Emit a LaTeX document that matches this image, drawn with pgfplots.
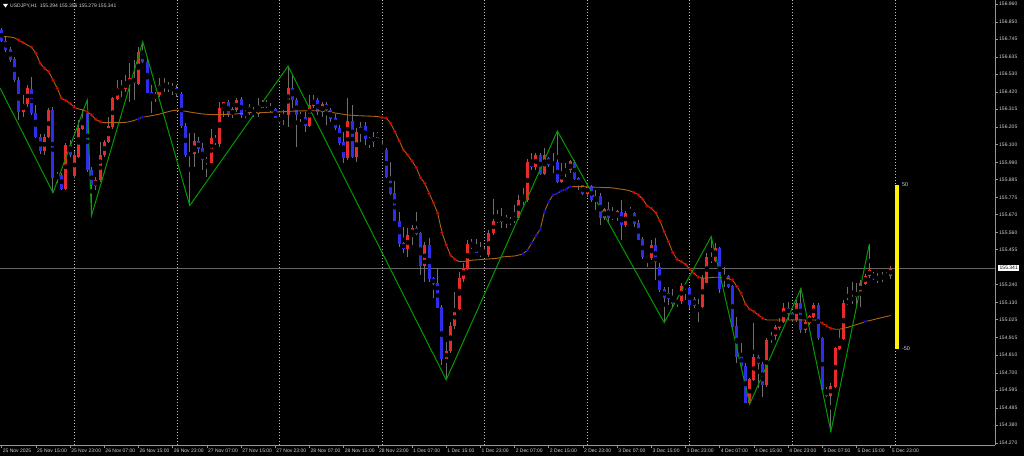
\documentclass[border=0pt]{standalone}
\usepackage{fontspec}
\setmainfont{Liberation Sans}
\usepackage{pgfplots}
\usepackage{pgfplotstable}
\pgfplotsset{compat=1.18}

\definecolor{upred}{RGB}{232,42,42}
\definecolor{dnblue}{RGB}{45,45,235}
\definecolor{wickgray}{RGB}{110,110,110}
\definecolor{mabrown}{RGB}{170,100,20}
\definecolor{zzgreen}{RGB}{0,155,0}
\definecolor{txtgray}{RGB}{212,212,212}
\definecolor{axgray}{RGB}{150,150,150}

% i open high low close ma dotflag(1 red, -1 blue)
\pgfplotstableread{
i o h l c ma s
0 156.801 156.811 156.729 156.735 156.760 0
1 156.735 156.760 156.668 156.678 156.760 0
2 156.682 156.699 156.607 156.621 156.758 0
3 156.621 156.637 156.484 156.494 156.752 0
4 156.494 156.515 156.249 156.300 156.739 1
5 156.300 156.403 156.270 156.347 156.723 1
6 156.351 156.464 156.331 156.443 156.709 0
7 156.439 156.515 156.280 156.294 156.695 1
8 156.294 156.341 156.137 156.147 156.658 1
9 156.143 156.168 156.045 156.060 156.597 1
10 156.060 156.168 156.035 156.143 156.566 1
11 156.147 156.321 156.137 156.307 156.545 1
12 156.307 156.331 155.804 155.898 156.494 1
13 155.902 155.933 155.862 155.912 156.443 1
14 155.912 155.923 155.821 155.831 156.382 1
15 155.831 156.106 155.821 156.096 156.368 1
16 156.096 156.127 156.025 156.035 156.351 1
17 155.912 156.060 155.892 156.035 156.327 1
18 156.025 156.249 156.015 156.198 156.317 0
19 156.198 156.311 156.188 156.260 156.311 0
20 156.290 156.372 155.933 155.943 156.300 1
21 155.943 155.964 155.662 155.851 156.280 1
22 155.847 155.902 155.821 155.882 156.253 1
23 155.882 156.116 155.872 156.035 156.239 1
24 156.035 156.127 156.025 156.111 156.233 0
25 156.117 156.270 156.107 156.209 156.233 0
26 156.209 156.392 156.198 156.382 156.233 0
27 156.382 156.494 156.372 156.443 156.233 0
28 156.443 156.494 156.392 156.454 156.233 0
29 156.443 156.525 156.423 156.478 156.235 0
30 156.474 156.597 156.362 156.505 156.239 0
31 156.505 156.617 156.372 156.480 156.247 0
32 156.474 156.699 156.464 156.668 156.256 -1
33 156.668 156.729 156.597 156.607 156.268 -1
34 156.607 156.637 156.413 156.417 156.270 0
35 156.417 156.464 156.290 156.382 156.276 0
36 156.382 156.423 156.362 156.409 156.280 0
37 156.403 156.505 156.392 156.464 156.286 0
38 156.458 156.505 156.423 156.454 156.294 0
39 156.454 156.484 156.423 156.448 156.300 0
40 156.450 156.474 156.403 156.443 156.307 0
41 156.443 156.464 156.392 156.409 156.309 0
42 156.409 156.423 156.198 156.213 156.307 0
43 156.213 156.229 156.025 156.035 156.303 0
44 156.035 156.168 155.725 156.045 156.298 0
45 156.045 156.168 155.964 156.117 156.294 0
46 156.117 156.147 156.045 156.076 156.290 0
47 156.076 156.107 155.943 156.009 156.286 0
48 156.009 156.025 155.904 155.988 156.284 0
49 155.988 156.198 155.984 156.137 156.282 0
50 156.137 156.158 156.096 156.107 156.282 0
51 156.107 156.362 156.086 156.321 156.282 0
52 156.321 156.362 156.270 156.356 156.283 0
53 156.356 156.372 156.270 156.280 156.284 0
54 156.280 156.331 156.260 156.315 156.285 0
55 156.311 156.382 156.300 156.372 156.287 0
56 156.376 156.392 156.260 156.280 156.289 0
57 156.300 156.311 156.260 156.286 156.291 0
58 156.327 156.351 156.280 156.296 156.294 0
59 156.304 156.331 156.270 156.284 156.294 0
60 156.290 156.382 156.270 156.327 156.294 0
61 156.327 156.372 156.321 156.356 156.295 0
62 156.358 156.372 156.321 156.331 156.296 0
63 156.331 156.351 156.290 156.315 156.297 0
64 156.315 156.321 156.260 156.264 156.298 0
65 156.239 156.280 156.229 156.264 156.299 0
66 156.264 156.311 156.219 156.284 156.300 0
67 156.284 156.580 156.209 156.443 156.302 0
68 156.443 156.525 156.321 156.372 156.303 0
69 156.372 156.382 156.086 156.280 156.304 0
70 156.280 156.300 156.239 156.264 156.305 0
71 156.264 156.300 156.178 156.215 156.305 0
72 156.215 156.402 156.209 156.341 156.306 0
73 156.341 156.402 156.321 156.372 156.306 0
74 156.372 156.382 156.280 156.300 156.306 0
75 156.300 156.362 156.270 156.345 156.305 0
76 156.345 156.362 156.219 156.311 156.303 0
77 156.311 156.321 156.239 156.260 156.298 0
78 156.260 156.290 156.188 156.202 156.292 0
79 156.202 156.219 156.096 156.113 156.288 0
80 156.113 156.178 155.984 156.019 156.284 0
81 156.019 156.386 156.004 156.243 156.280 0
82 156.243 156.341 156.015 156.025 156.278 0
83 156.025 156.198 155.994 156.174 156.276 0
84 156.174 156.239 156.117 156.209 156.275 0
85 156.209 156.239 156.096 156.137 156.274 0
86 156.137 156.147 156.076 156.117 156.273 0
87 156.117 156.178 156.086 156.143 156.272 0
88 156.143 156.178 156.137 156.168 156.270 0
89 156.051 156.127 156.045 156.066 156.264 1
90 156.066 156.076 155.892 155.902 156.260 1
91 155.902 155.990 155.790 155.800 156.229 1
92 155.800 155.872 155.627 155.631 156.178 1
93 155.631 155.688 155.473 155.494 156.121 1
94 155.494 155.596 155.433 155.459 156.066 1
95 155.459 155.586 155.412 155.545 156.035 1
96 155.545 155.606 155.484 155.586 155.998 1
97 155.586 155.688 155.545 155.555 155.957 1
98 155.555 155.565 155.300 155.355 155.896 1
99 155.355 155.504 155.259 155.480 155.861 1
100 155.480 155.524 155.259 155.279 155.800 1
101 155.279 155.290 155.157 155.249 155.743 1
102 155.249 155.341 155.096 155.100 155.678 1
103 155.100 155.116 154.749 154.785 155.561 1
104 154.785 154.891 154.657 154.834 155.484 1
105 154.834 155.014 154.820 154.989 155.422 1
106 154.989 155.198 154.973 155.092 155.396 1
107 155.092 155.320 155.085 155.279 155.382 0
108 155.279 155.371 155.259 155.341 155.382 0
109 155.341 155.514 155.330 155.488 155.386 0
110 155.488 155.520 155.463 155.473 155.390 0
111 155.473 155.520 155.433 155.439 155.392 0
112 155.439 155.504 155.412 155.426 155.394 0
113 155.426 155.473 155.412 155.422 155.396 0
114 155.422 155.575 155.412 155.557 155.398 0
115 155.557 155.769 155.545 155.631 155.400 0
116 155.631 155.700 155.620 155.645 155.402 0
117 155.627 155.708 155.586 155.653 155.410 0
118 155.653 155.668 155.586 155.627 155.412 0
119 155.627 155.657 155.606 155.633 155.414 0
120 155.633 155.729 155.616 155.653 155.416 0
121 155.653 155.790 155.637 155.759 155.422 0
122 155.759 155.831 155.729 155.764 155.429 -1
123 155.764 156.015 155.749 155.994 155.453 -1
124 155.994 156.045 155.943 155.964 155.494 -1
125 155.964 156.045 155.943 156.035 155.541 -1
126 156.035 156.045 155.913 155.923 155.580 -1
127 155.923 156.076 155.913 156.035 155.688 -1
128 156.015 156.025 155.964 155.974 155.749 -1
129 155.974 156.045 155.923 155.990 155.790 -1
130 155.990 156.182 155.862 155.872 155.800 -1
131 155.872 155.984 155.862 155.923 155.815 -1
132 155.923 155.984 155.902 155.943 155.825 -1
133 155.943 156.004 155.923 155.994 155.841 -1
134 155.994 156.004 155.882 155.892 155.841 0
135 155.892 155.902 155.821 155.851 155.841 0
136 155.851 155.855 155.790 155.800 155.841 0
137 155.800 155.862 155.780 155.841 155.839 0
138 155.841 155.851 155.749 155.759 155.839 0
139 155.759 155.821 155.698 155.780 155.837 0
140 155.780 155.800 155.606 155.653 155.837 0
141 155.653 155.708 155.637 155.702 155.835 0
142 155.702 155.749 155.616 155.653 155.835 0
143 155.653 155.719 155.637 155.657 155.833 0
144 155.657 155.698 155.627 155.688 155.829 0
145 155.688 155.759 155.514 155.606 155.825 0
146 155.606 155.690 155.596 155.680 155.821 0
147 155.680 155.719 155.668 155.676 155.815 0
148 155.676 155.688 155.596 155.616 155.804 1
149 155.616 155.637 155.514 155.518 155.790 1
150 155.518 155.535 155.402 155.412 155.764 1
151 155.412 155.422 155.351 155.408 155.723 1
152 155.408 155.514 155.392 155.484 155.708 1
153 155.484 155.524 155.269 155.382 155.682 1
154 155.347 155.371 155.198 155.212 155.631 1
155 155.212 155.228 155.008 155.163 155.565 1
156 155.188 155.228 155.116 155.157 155.504 1
157 155.167 155.218 155.106 155.122 155.437 1
158 155.122 155.167 155.106 155.143 155.396 1
159 155.143 155.249 155.126 155.233 155.382 1
160 155.233 155.249 155.147 155.224 155.365 1
161 155.218 155.228 155.096 155.116 155.335 1
162 155.151 155.167 155.096 155.110 155.310 1
163 155.110 155.157 155.014 155.106 155.286 1
164 155.106 155.300 155.100 155.280 155.280 0
165 155.253 155.433 155.249 155.412 155.280 0
166 155.408 155.535 155.371 155.388 155.284 0
167 155.388 155.494 155.382 155.463 155.286 0
168 155.463 155.473 155.188 155.218 155.286 0
169 155.290 155.351 155.228 155.269 155.282 0
170 155.290 155.300 155.218 155.228 155.278 0
171 155.228 155.239 154.973 154.984 155.269 1
172 154.984 155.045 154.759 154.800 155.229 1
173 154.810 154.882 154.739 154.743 155.188 1
174 154.743 154.759 154.514 154.518 155.122 1
175 154.518 154.667 154.508 154.661 155.090 1
176 154.661 155.004 154.653 154.796 155.075 1
177 154.796 154.810 154.606 154.755 155.055 1
178 154.755 154.769 154.555 154.626 155.035 1
179 154.626 154.912 154.616 154.902 155.024 0
180 154.902 154.953 154.882 154.926 155.024 0
181 154.926 154.994 154.902 154.980 155.024 0
182 154.980 155.035 154.963 155.014 155.024 0
183 155.014 155.126 155.004 155.096 155.024 0
184 155.096 155.137 155.024 155.065 155.024 0
185 155.065 155.075 155.014 155.024 155.024 0
186 155.024 155.147 155.014 155.126 155.024 0
187 155.126 155.218 154.943 154.963 155.024 0
188 154.963 155.024 154.943 155.008 155.024 0
189 155.008 155.055 154.994 155.045 155.024 0
190 155.045 155.126 155.035 155.116 155.024 0
191 155.116 155.126 154.902 154.912 155.022 0
192 154.912 154.922 154.586 154.596 155.004 1
193 154.596 154.616 154.555 154.559 154.988 1
194 154.559 154.637 154.340 154.616 154.973 1
195 154.616 154.861 154.606 154.851 154.967 0
196 154.851 154.963 154.841 154.906 154.967 0
197 154.906 155.147 154.902 155.126 154.973 0
198 155.126 155.229 155.116 155.141 154.979 0
199 155.141 155.259 155.126 155.167 154.988 0
200 155.167 155.249 155.116 155.194 154.996 0
201 155.194 155.269 155.106 155.249 155.004 0
202 155.249 155.310 155.239 155.294 155.014 -1
203 155.294 155.490 155.280 155.331 155.020 0
204 155.300 155.320 155.270 155.280 155.026 0
205 155.280 155.314 155.249 155.276 155.033 0
206 155.276 155.321 155.259 155.290 155.039 0
207 155.290 155.321 155.280 155.300 155.045 0
208 155.294 155.356 155.279 155.341 155.051 0
}\candles

% zigzag pivots
\pgfplotstableread{
i p
-0.4 156.446
12 155.804
20 156.372
21 155.662
33 156.729
44 155.725
67 156.580
104 154.657
130 156.182
155 155.008
166 155.535
175 154.508
187 155.218
194 154.340
203 155.490
}\zigzag

\begin{document}
\begin{tikzpicture}[x=1pt,y=1pt]
\path[use as bounding box, fill=black] (0,0) rectangle (1024,456);
\begin{axis}[
    at={(0pt,11pt)}, anchor=south west,
    width=995pt, height=445pt, scale only axis,
    xmin=-0.4, xmax=232.4,
    ymin=154.2578, ymax=156.9845,
    axis x line*=bottom, axis y line*=right,
    x axis line style={-, draw=axgray, line width=0.8pt},
    y axis line style={-, draw=axgray, line width=0.8pt},
    tick align=outside, major tick length=3pt,
    tick style={draw=axgray, line width=0.6pt},
    xtick={0,8,...,208},
    xticklabels={25 Nov 2025, 25 Nov 15:00, 25 Nov 23:00, 26 Nov 07:00, 26 Nov 15:00, 26 Nov 23:00,
        27 Nov 07:00, 27 Nov 15:00, 27 Nov 23:00, 28 Nov 07:00, 28 Nov 15:00, 28 Nov 23:00,
        1 Dec 07:00, 1 Dec 15:00, 1 Dec 23:00, 2 Dec 07:00, 2 Dec 15:00, 2 Dec 23:00,
        3 Dec 07:00, 3 Dec 15:00, 3 Dec 23:00, 4 Dec 07:00, 4 Dec 15:00, 4 Dec 23:00,
        5 Dec 07:00, 5 Dec 15:00, 5 Dec 23:00},
    xticklabel style={anchor=north west, inner sep=0pt, xshift=1pt, yshift=-0.5pt,
        font=\fontsize{5}{6}\selectfont, text=txtgray},
    ytick={156.960,156.850,156.745,156.635,156.530,156.420,156.315,156.205,156.100,155.990,
        155.885,155.775,155.670,155.560,155.455,155.240,155.130,155.025,154.915,154.810,
        154.700,154.595,154.485,154.380,154.270},
    yticklabels={156.960,156.850,156.745,156.635,156.530,156.420,156.315,156.205,156.100,155.990,
        155.885,155.775,155.670,155.560,155.455,155.240,155.130,155.025,154.915,154.810,
        154.700,154.595,154.485,154.380,154.270},
    yticklabel style={anchor=west, inner sep=0pt, xshift=1pt,
        font=\fontsize{5}{6}\selectfont, text=txtgray},
    extra x ticks={17,41,65,89,113,137,161,185,209},
    extra x tick labels={},
    extra x tick style={grid=major, major tick length=0pt,
        major grid style={draw=white!75!black, line width=0.7pt, dash pattern=on 1.2pt off 1.8pt}},
]
% current price line
\addplot[draw=white!40!black, line width=0.8pt] coordinates {(-1,155.341) (240,155.341)};

% wicks
\addplot[only marks, mark=none,
    error bars/.cd, y dir=both, y explicit, error mark=none,
    error bar style={draw=wickgray, line width=1pt}]
    table[x=i, y expr={(\thisrow{h}+\thisrow{l})/2}, y error expr={(\thisrow{h}-\thisrow{l})/2}] {\candles};
% bullish bodies
\addplot[only marks, mark=none,
    restrict expr to domain={\thisrow{c}-\thisrow{o}}{0:5},
    error bars/.cd, y dir=both, y explicit, error mark=none,
    error bar style={draw=upred, line width=3pt}]
    table[x=i, y expr={(\thisrow{o}+\thisrow{c})/2}, y error expr={abs(\thisrow{c}-\thisrow{o})/2+0.0015}] {\candles};
% bearish bodies
\addplot[only marks, mark=none,
    restrict expr to domain={\thisrow{c}-\thisrow{o}}{-5:0},
    error bars/.cd, y dir=both, y explicit, error mark=none,
    error bar style={draw=dnblue, line width=3pt}]
    table[x=i, y expr={(\thisrow{o}+\thisrow{c})/2}, y error expr={abs(\thisrow{c}-\thisrow{o})/2+0.0015}] {\candles};

% smoothed average with direction dots
\addplot[mabrown, line width=0.9pt, mark=none] table[x=i, y=ma] {\candles};
\addplot[only marks, mark=*, mark size=1.5pt, draw=red!60!black, fill=red, line width=0.5pt,
    restrict expr to domain={\thisrow{s}}{0.5:1.5}] table[x=i, y=ma] {\candles};
\addplot[only marks, mark=*, mark size=1.5pt, draw=blue!60!black, fill=blue!90!white, line width=0.5pt,
    restrict expr to domain={\thisrow{s}}{-1.5:-0.5}] table[x=i, y=ma] {\candles};

% zigzag
\addplot[zzgreen, line width=1pt, mark=none] table[x=i, y=p] {\zigzag};

% oscillator bar
\addplot[yellow, line width=4pt, mark=none] coordinates {(209.55,154.846) (209.55,155.851)};
\node[anchor=west, text=txtgray, font=\fontsize{5.5}{6}\selectfont, inner sep=0pt]
    at (axis cs:210.6,155.851) {50};
\node[anchor=west, text=txtgray, font=\fontsize{5.5}{6}\selectfont, inner sep=0pt]
    at (axis cs:210.6,154.846) {-50};

\coordinate (pbox) at (axis cs:232.4,155.341);
\end{axis}

% price tag on the scale
\node[anchor=west, fill=white, text=black, font=\fontsize{5}{6}\selectfont,
    inner xsep=1.5pt, inner ysep=1.5pt, xshift=3pt] at (pbox) {155.341};

% header
\fill[white] (3,452) -- (8,452) -- (5.5,448.5) -- cycle;
\node[anchor=west, text=txtgray, font=\fontsize{5}{6}\selectfont, inner sep=0pt]
    at (10,450) {USDJPY,H1\ \ 155.294 155.356 155.279 155.341};
\end{tikzpicture}
\end{document}
